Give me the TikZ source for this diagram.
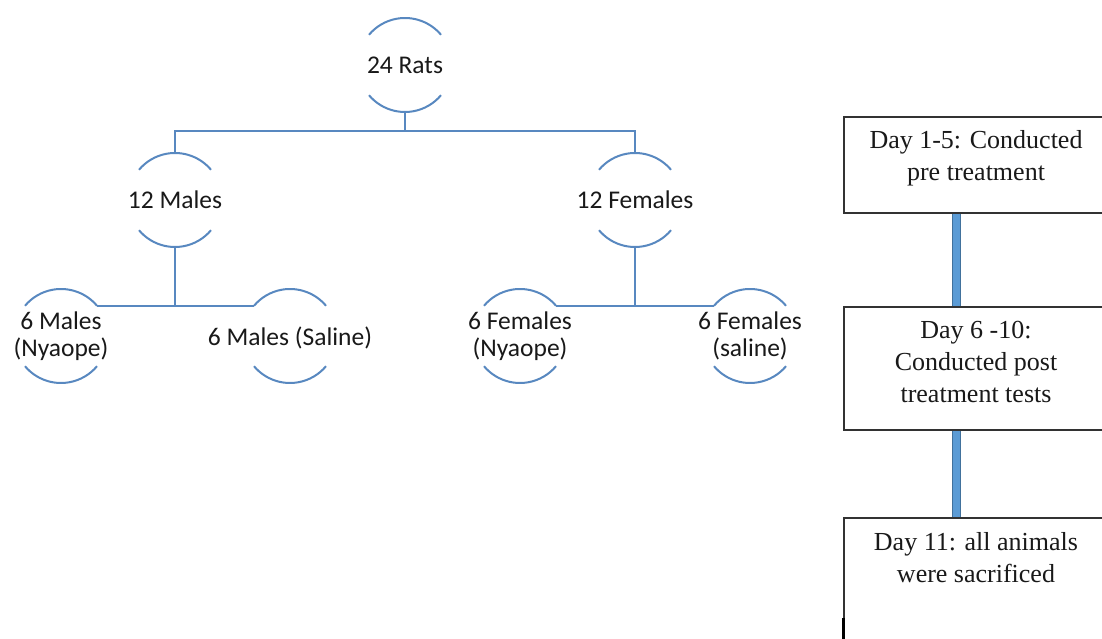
\documentclass[tikz,border=0pt]{standalone}
\usepackage{fontspec}
\newfontfamily\calfont{Carlito}
\newfontfamily\serffont{Liberation Serif}
\usetikzlibrary{calc}
\definecolor{linkc}{RGB}{88,136,192}
\definecolor{boxc}{RGB}{50,50,50}
\definecolor{barfill}{RGB}{91,155,213}
\definecolor{baredge}{RGB}{65,113,156}
\definecolor{txt}{RGB}{25,25,25}
\begin{document}
\begin{tikzpicture}[x=1pt,y=1pt,
  ring/.style={circle, minimum size=94pt, inner sep=0pt, outer sep=0pt, draw=none},
  lab/.style={font=\calfont\fontsize{25.5}{27}\selectfont, align=center, text=txt, inner sep=0pt},
  link/.style={draw=linkc, line width=2pt},
  arcline/.style={draw=linkc, line width=2pt},
  box/.style={draw=boxc, line width=2pt, fill=white, rectangle, anchor=north west, inner sep=0pt, outer sep=0pt, minimum width=264pt},
  boxtxt/.style={font=\serffont\fontsize{26}{32}\selectfont, align=center, text=txt, inner sep=0pt},
  bar/.style={draw=baredge, line width=1pt, double=barfill, double distance=7pt}]
\clip (0,0) rectangle (1102,639);
\fill[white] (0,0) rectangle (1102,639);

% tree rings
\node[ring] (rats) at (405,574) {};
\node[ring] (males) at (175,439) {};
\node[ring] (females) at (635,439) {};
\node[ring] (mn) at (61,303) {};
\node[ring] (ms) at (290,303) {};
\node[ring] (fn) at (520,303) {};
\node[ring] (fs) at (750,303) {};

\foreach \n in {rats,males,females,mn,ms,fn,fs}{
  \draw[arcline] (\n.40) arc[start angle=40,end angle=140,radius=47];
  \draw[arcline] (\n.220) arc[start angle=220,end angle=320,radius=47];
}

\node[lab] (ratsl) at (rats) {24 Rats};
\node[lab] (malesl) at (males) {12 Males};
\node[lab] (femalesl) at (females) {12 Females};
\node[lab] (mnl) at (mn) {6 Males\\(Nyaope)};
\node[lab] (msl) at ($(ms)+(0,-2)$) {6 Males (Saline)};
\node[lab] (fnl) at (fn) {6 Females\\(Nyaope)};
\node[lab] (fsl) at (fs) {6 Females\\(saline)};

\coordinate (j0) at (405,508);
\draw[link] (rats.south) -- (j0);
\draw[link] (males.north) -- (males.north |- j0) -- (females.north |- j0) -- (females.north);
\draw[link] (males.south) -- (males.south |- mn.40);
\draw[link] (mn.40) -- (ms.140);
\draw[link] (females.south) -- (females.south |- fn.40);
\draw[link] (fn.40) -- (fs.140);

% timeline boxes
\node[box, minimum height=96pt] (b1) at (844,522) {};
\node[box, minimum height=123pt] (b2) at (844,332) {};
\node[box, minimum height=200pt] (b3) at (844,121) {};

\draw[bar] ($(b1.south west)+(112,-1)$) -- ($(b2.north west)+(112,1)$);
\draw[bar] ($(b2.south west)+(112,-1)$) -- ($(b3.north west)+(112,1)$);

\node[boxtxt] (t1) at (976,481) {Day 1-5: Conducted\\pre treatment};
\node[boxtxt] (t2) at (976,277) {Day 6 -10:\\Conducted post\\treatment tests};
\node[boxtxt] (t3) at (976,81) {Day 11: all animals\\were sacrificed};

\coordinate (mk1) at (843,21);
\coordinate (mk0) at (843,0);
\draw[black, line width=3pt] (mk1) -- (mk0);
\end{tikzpicture}
\end{document}
